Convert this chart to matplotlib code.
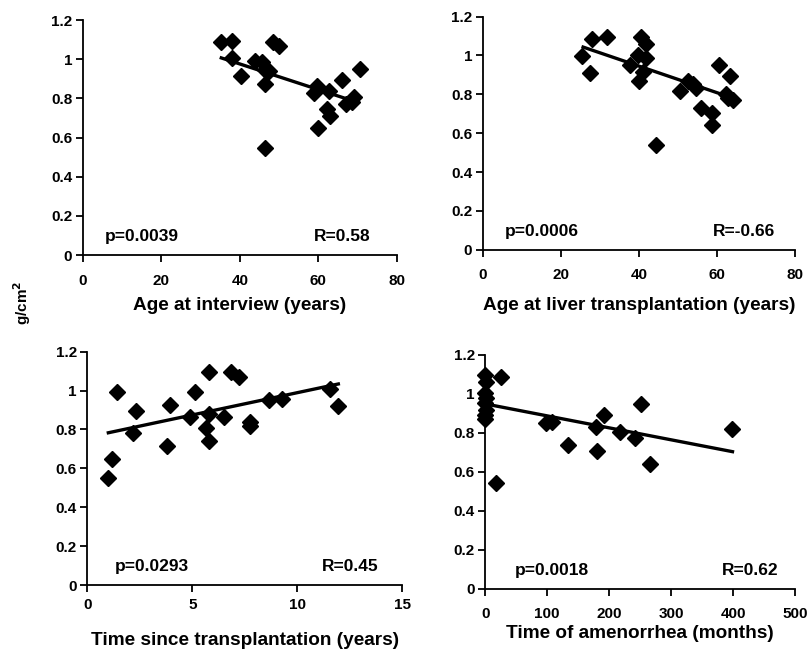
import matplotlib
matplotlib.use("Agg")
import matplotlib.pyplot as plt

plt.rcParams["font.family"] = ["Liberation Sans", "DejaVu Sans"]
plt.rcParams["font.weight"] = "bold"

# Panel A: age at interview
age_iv_x = [35.3, 38.0, 38.0, 40.2, 43.8, 45.7, 46.3, 47.4, 46.3, 46.3, 48.4, 50.0,
            59.6, 58.9, 62.7, 62.3, 63.0, 59.8, 66.1, 67.0, 69.1, 70.6, 68.5]
age_iv_y = [1.086, 1.093, 1.004, 0.914, 0.992, 0.987, 0.945, 0.94, 0.873, 0.545, 1.09, 1.067,
            0.863, 0.826, 0.839, 0.744, 0.71, 0.647, 0.894, 0.774, 0.805, 0.948, 0.78]
age_iv_fit = ([35.3, 69.5], [1.007, 0.783])

# Panel B: age at liver transplantation
age_tx_x = [25.3, 28.1, 27.4, 31.7, 37.8, 39.7, 40.6, 41.9, 41.0, 39.9, 41.9, 44.4,
            50.4, 52.5, 53.8, 54.5, 55.9, 58.6, 58.6, 60.4, 63.3, 62.3, 64.0, 62.7]
age_tx_y = [0.997, 1.085, 0.909, 1.094, 0.949, 1.0, 1.094, 1.06, 0.915, 0.868, 0.986, 0.538,
            0.815, 0.867, 0.851, 0.832, 0.732, 0.704, 0.641, 0.949, 0.894, 0.803, 0.769, 0.78]
age_tx_fit = ([25.7, 64.0], [1.043, 0.781])

# Panel C: time since transplantation
since_x = [1.0, 1.16, 1.43, 2.32, 2.16, 3.81, 3.94, 4.89, 5.13, 5.63, 5.81, 5.81, 5.81,
           6.52, 6.84, 7.22, 7.75, 7.75, 8.67, 9.25, 11.56, 11.95]
since_y = [0.549, 0.646, 0.991, 0.897, 0.783, 0.717, 0.926, 0.862, 0.994, 0.806, 0.742, 1.097, 0.879,
           0.862, 1.097, 1.068, 0.84, 0.818, 0.951, 0.955, 1.006, 0.921]
since_fit = ([1.0, 11.95], [0.783, 1.034])

# Panel D: time of amenorrhea
amen_x = [0, 1, 0, 1, 0, 1, 0, 0, 25, 17.7, 97.9, 107, 133.8, 178, 180, 191,
          218, 242, 251, 266, 397.5]
amen_y = [1.097, 1.063, 1.004, 0.978, 0.952, 0.918, 0.892, 0.87, 1.089, 0.542, 0.853, 0.858, 0.738,
          0.829, 0.709, 0.892, 0.803, 0.776, 0.947, 0.641, 0.821]
amen_fit = ([0, 398.6], [0.949, 0.704])

yticks = [0, 0.2, 0.4, 0.6, 0.8, 1.0, 1.2]
ytick_labels = ["0", "0.2", "0.4", "0.6", "0.8", "1", "1.2"]

# rect, x, y, fit, xticks, xlabel, p text, R text, p x-pos, R x-pos, tick pad, xlabel y
panels = [
    ([0.102, 0.607, 0.388, 0.362], age_iv_x, age_iv_y, age_iv_fit, [0, 20, 40, 60, 80],
     "Age at interview (years)", "p=0.0039", "R=0.58", 0.071, 0.915, 8.4, -0.179),
    ([0.596, 0.615, 0.3856, 0.3595], age_tx_x, age_tx_y, age_tx_fit, [0, 20, 40, 60, 80],
     "Age at liver transplantation (years)", "p=0.0006", "R=-0.66", 0.071, 0.935, 8.4, -0.201),
    ([0.1078, 0.0986, 0.389, 0.3595], since_x, since_y, since_fit, [0, 5, 10, 15],
     "Time since transplantation (years)", "p=0.0293", "R=0.45", 0.088, 0.925, 4.2, -0.201),
    ([0.599, 0.0925, 0.383, 0.3606], amen_x, amen_y, amen_fit, [0, 100, 200, 300, 400, 500],
     "Time of amenorrhea (months)", "p=0.0018", "R=0.62", 0.097, 0.945, 8.0, -0.154),
]

fig = plt.figure(figsize=(8.1, 6.49), dpi=100)

for rect, xs, ys, fit, xticks, xlabel, ptxt, rtxt, px, rx, tpad, ly in panels:
    ax = fig.add_axes(rect)
    ax.plot(xs, ys, "D", color="black", ms=8.5, zorder=3, clip_on=False)
    ax.plot(fit[0], fit[1], color="black", lw=2.4, zorder=2)
    ax.set_xlim(xticks[0], xticks[-1])
    ax.set_ylim(0, 1.2)
    ax.set_xticks(xticks)
    ax.set_xticklabels([str(t) for t in xticks])
    ax.set_yticks(yticks)
    ax.set_yticklabels(ytick_labels)
    for s in ["top", "right"]:
        ax.spines[s].set_visible(False)
    for s in ["left", "bottom"]:
        ax.spines[s].set_linewidth(1.3)
    ax.tick_params(direction="out", length=5, width=1.3, labelsize=11)
    ax.tick_params(axis="y", pad=2.5)
    ax.tick_params(axis="x", pad=tpad)
    for lbl in ax.get_xticklabels() + ax.get_yticklabels():
        lbl.set_fontweight("bold")
    ax.set_xlabel(xlabel, fontsize=13.7, fontweight="bold")
    ax.xaxis.set_label_coords(0.5, ly)
    ax.text(px, 0.08, ptxt, transform=ax.transAxes, fontsize=12.5, fontweight="bold",
            ha="left", va="center")
    ax.text(rx, 0.08, rtxt, transform=ax.transAxes, fontsize=12.5, fontweight="bold",
            ha="right", va="center")

fig.text(0.027, 0.533, "g/cm$^\\mathbf{2}$", rotation=90, fontsize=11, fontweight="bold",
         ha="center", va="center")

fig.savefig("out.png", dpi=100)
